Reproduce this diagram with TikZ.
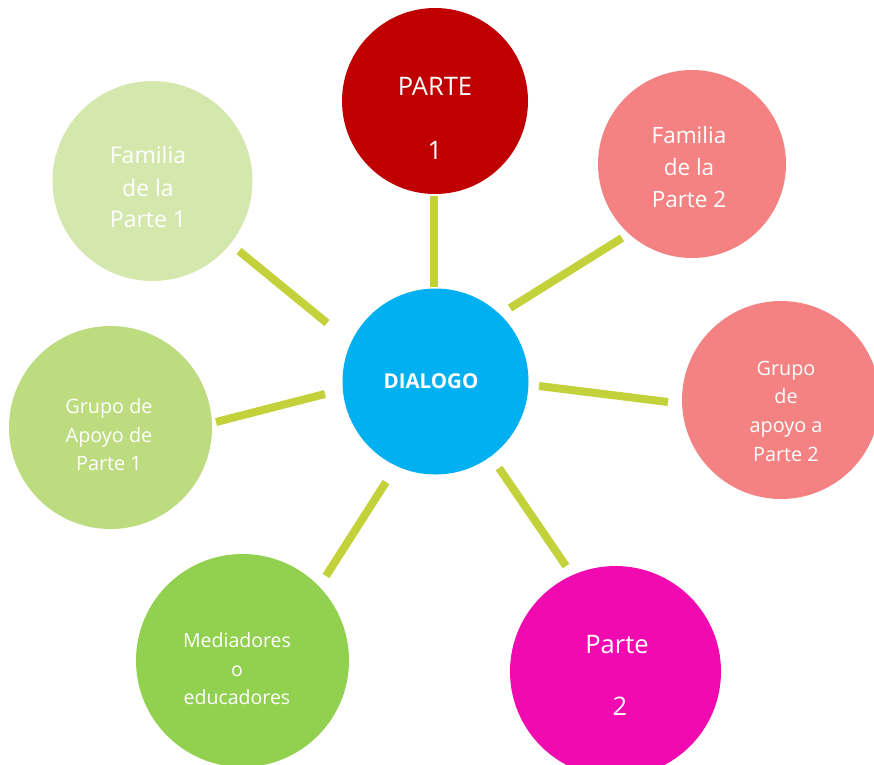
\documentclass[tikz,border=0pt]{standalone}
\usepackage{fontspec}
\setmainfont{Open Sans}
\definecolor{pAc}{HTML}{C00000}
\definecolor{famBc}{HTML}{F48282}
\definecolor{dlgc}{HTML}{00B0F0}
\definecolor{pBc}{HTML}{F20AB1}
\definecolor{medc}{HTML}{92D050}
\definecolor{grAc}{HTML}{BDDB7F}
\definecolor{famAc}{HTML}{D4E8AE}
\definecolor{linkc}{HTML}{C3D13A}
\begin{document}
\begin{tikzpicture}[x=1pt,y=-1pt,
  bub/.style={circle,inner sep=0pt,minimum size=#1},
  lnk/.style={draw=linkc,line width=8pt},
  txt/.style={text=white,anchor=base,inner sep=0pt}]
\useasboundingbox (0,0) rectangle (874,764);
\clip (0,0) rectangle (874,764);
% circles
\node[bub=186pt,fill=pAc]   (p1)   at (435,101) {};
\node[bub=188pt,fill=famBc] (fam2) at (692,164) {};
\node[bub=186pt,fill=dlgc]  (dlg)  at (435.5,381.5) {};
\node[bub=198pt,fill=famBc] (gr2)  at (781,400) {};
\node[bub=203pt,fill=grAc]  (gr1)  at (110.5,427.5) {};
\node[bub=213pt,fill=medc]  (med)  at (242.5,660.5) {};
\node[bub=211pt,fill=pBc]   (p2)   at (615.5,671.5) {};
\node[bub=200pt,fill=famAc] (fam1) at (152.5,181) {};
% connector ends
\coordinate (a1) at (434,196);   \coordinate (b1) at (434,287);
\coordinate (a2) at (510,308);   \coordinate (b2) at (622,238);
\coordinate (a3) at (539,386);   \coordinate (b3) at (668,402);
\coordinate (a4) at (499,468);   \coordinate (b4) at (566,566);
\coordinate (a5) at (386,482);   \coordinate (b5) at (326,576);
\coordinate (a6) at (325,394);   \coordinate (b6) at (216,422);
\coordinate (a7) at (327,323);   \coordinate (b7) at (239,251);
\draw[lnk] (a1) -- (b1);
\draw[lnk] (a2) -- (b2);
\draw[lnk] (a3) -- (b3);
\draw[lnk] (a4) -- (b4);
\draw[lnk] (a5) -- (b5);
\draw[lnk] (a6) -- (b6);
\draw[lnk] (a7) -- (b7);
% texts
\begin{scope}[every node/.append style={txt}]
\node[font=\fontsize{25.5}{30}\selectfont] (t1a) at (435,95) {PARTE};
\node[font=\fontsize{25.5}{30}\selectfont] (t1b) at (435,159) {1};
\node[font=\fontsize{22.5}{27}\selectfont] (t2a) at (689,143) {Familia};
\node[font=\fontsize{22.5}{27}\selectfont] (t2b) at (689,175) {de la};
\node[font=\fontsize{22.5}{27}\selectfont] (t2c) at (689,207) {Parte 2};
\node[font=\fontsize{20.5}{24}\selectfont\bfseries] (t3a) at (431,388) {DIALOGO};
\node[font=\fontsize{19.8}{24}\selectfont] (t4a) at (786,375) {Grupo};
\node[font=\fontsize{19.8}{24}\selectfont] (t4b) at (786,403) {de};
\node[font=\fontsize{19.8}{24}\selectfont] (t4c) at (786,432) {apoyo a};
\node[font=\fontsize{19.8}{24}\selectfont] (t4d) at (786,461) {Parte 2};
\node[font=\fontsize{19.8}{24}\selectfont] (t5a) at (109,413) {Grupo de};
\node[font=\fontsize{19.8}{24}\selectfont] (t5b) at (109,442) {Apoyo de};
\node[font=\fontsize{19.8}{24}\selectfont] (t5c) at (109,470) {Parte 1};
\node[font=\fontsize{19.5}{24}\selectfont] (t6a) at (237,647) {Mediadores};
\node[font=\fontsize{19.5}{24}\selectfont] (t6b) at (237,676) {o};
\node[font=\fontsize{19.5}{24}\selectfont] (t6c) at (237,704) {educadores};
\node[font=\fontsize{25.5}{30}\selectfont] (t7a) at (617,653) {Parte};
\node[font=\fontsize{25.5}{30}\selectfont] (t7b) at (620,715) {2};
\node[font=\fontsize{23}{27}\selectfont] (t8a) at (148,163) {Familia};
\node[font=\fontsize{23}{27}\selectfont] (t8b) at (148,196) {de la};
\node[font=\fontsize{23}{27}\selectfont] (t8c) at (148,227) {Parte 1};
\end{scope}
\end{tikzpicture}
\end{document}
